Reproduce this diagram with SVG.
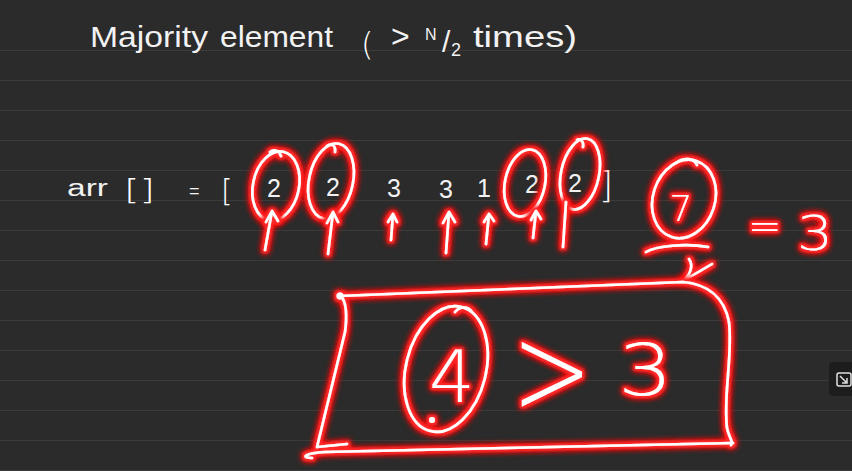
<svg xmlns="http://www.w3.org/2000/svg" width="852" height="471" viewBox="0 0 852 471">
<defs>
<style>
.ink{fill:#f2f2f2;font-family:"Liberation Sans","DejaVu Sans",sans-serif}
.hand{fill:#ffffff;font-family:"DejaVu Sans","Liberation Sans",sans-serif;font-weight:200}
.st{fill:none;stroke:#ffffff;stroke-width:2.6;stroke-linecap:round;stroke-linejoin:round}
.rule{stroke:#3b3b3b;stroke-width:1}
.gl{filter:url(#glow)}
</style>
<filter id="glow" filterUnits="userSpaceOnUse" x="0" y="0" width="852" height="471">
<feMorphology in="SourceAlpha" operator="dilate" radius="1.8" result="d"/>
<feGaussianBlur in="d" stdDeviation="3.2" result="b"/>
<feFlood flood-color="#ff1414"/>
<feComposite in2="b" operator="in" result="g"/>
<feGaussianBlur in="d" stdDeviation="1" result="b2"/>
<feFlood flood-color="#ff2a2a"/>
<feComposite in2="b2" operator="in" result="g2"/>
<feMerge><feMergeNode in="g"/><feMergeNode in="g"/><feMergeNode in="g2"/><feMergeNode in="SourceGraphic"/></feMerge>
</filter>
</defs>
<rect width="852" height="471" fill="#2b2b2b"/>
<g id="rules">
<line class="rule" x1="0" y1="50.5" x2="852" y2="50.5"/>
<line class="rule" x1="0" y1="80.5" x2="852" y2="80.5"/>
<line class="rule" x1="0" y1="110.5" x2="852" y2="110.5"/>
<line class="rule" x1="0" y1="140.5" x2="852" y2="140.5"/>
<line class="rule" x1="0" y1="170.5" x2="852" y2="170.5"/>
<line class="rule" x1="0" y1="200.5" x2="852" y2="200.5"/>
<line class="rule" x1="0" y1="230.5" x2="852" y2="230.5"/>
<line class="rule" x1="0" y1="260.5" x2="852" y2="260.5"/>
<line class="rule" x1="0" y1="290.5" x2="852" y2="290.5"/>
<line class="rule" x1="0" y1="320.5" x2="852" y2="320.5"/>
<line class="rule" x1="0" y1="350.5" x2="852" y2="350.5"/>
<line class="rule" x1="0" y1="380.5" x2="852" y2="380.5"/>
<line class="rule" x1="0" y1="410.5" x2="852" y2="410.5"/>
<line class="rule" x1="0" y1="440.5" x2="852" y2="440.5"/>
<line class="rule" x1="0" y1="470.5" x2="852" y2="470.5"/>
</g>
<g id="title">
<text class="ink" x="90" y="47" font-size="30" textLength="118" lengthAdjust="spacingAndGlyphs">Majority</text>
<text class="ink" x="220" y="47" font-size="30" textLength="113" lengthAdjust="spacingAndGlyphs">element</text>
<text class="hand" x="361" y="55" font-size="32">(</text>
<text class="ink" x="391" y="47" font-size="32">&gt;</text>
<text class="ink" x="425" y="40" font-size="16">N</text>
<text class="ink" x="442" y="52" font-size="30">/</text>
<text class="ink" x="451" y="56" font-size="18">2</text>
<text class="ink" x="473" y="47" font-size="30" textLength="104" lengthAdjust="spacingAndGlyphs">times)</text>
</g>
<g id="array">
<text class="ink" x="67" y="196" font-size="23" textLength="41" lengthAdjust="spacingAndGlyphs">arr</text>
<text class="hand" x="124" y="200" font-size="28" textLength="31" lengthAdjust="spacingAndGlyphs">[]</text>
<text class="ink" x="189" y="197" font-size="18">=</text>
<text class="hand" x="221" y="201" font-size="30">[</text>
<g class="ink" font-size="25" text-anchor="middle">
<text x="274" y="197">2</text>
<text x="333" y="196">2</text>
<text x="394" y="197">3</text>
<text x="446" y="198">3</text>
<text x="484" y="197">1</text>
<text x="532" y="193">2</text>
<text x="575" y="192">2</text>
</g>
<text class="hand" x="599" y="197" font-size="36">]</text>
</g>
<g id="circles" class="gl">
<ellipse class="st" cx="276" cy="186" rx="23" ry="35" transform="rotate(12 276 186)"/>
<ellipse class="st" cx="331" cy="181" rx="22" ry="38" transform="rotate(12 331 181)"/>
<ellipse class="st" cx="525" cy="183" rx="20" ry="34" transform="rotate(12 525 183)"/>
<ellipse class="st" cx="580" cy="174" rx="19" ry="36" transform="rotate(12 580 174)"/>
<path class="st" d="M270,152 C274,149 279,150 281,156 M327,146 C331,143 336,145 335,152 M577,140 C580,138 584,141 583,147"/>
</g>
<g id="connectors" class="gl">
<path class="st" d="M265,250 L272,211 M266,222 L272,211 L278,221"/>
<path class="st" d="M328,254 L333,212 M327,223 L333,212 L338,222"/>
<path class="st" d="M391,240 L393,214 M388,222 L393,214 L397,222"/>
<path class="st" d="M446,253 L449,212 M443,223 L449,212 L455,222"/>
<path class="st" d="M486,244 L489,214 M484,222 L489,214 L494,221"/>
<path class="st" d="M533,238 L536,211 M531,220 L536,211 L541,219"/>
<path class="st" d="M563,247 L566,202"/>
<path class="st" d="M689,259 C694,266 690,275 683,281 L712,264"/>
</g>
<g id="count" class="gl">
<ellipse class="st" cx="684" cy="199" rx="31" ry="40" transform="rotate(18 684 199)"/>
<path class="st" d="M676,163 C684,157 694,158 697,165"/>
<text class="hand" x="681" y="221" font-size="36" text-anchor="middle">7</text>
<path class="st" d="M646,252 C656,246 686,243 708,247"/>
<text class="hand" x="748" y="240" font-size="40">=</text>
<text class="hand" x="797" y="250" font-size="48" textLength="36" lengthAdjust="spacingAndGlyphs">3</text>
</g>
<g id="result" class="gl">
<path class="st" d="M340,296 L683,282 C706,284 724,296 729,322 C733,355 723,395 727,428 C729,438 734,442 731,445"/>
<path class="st" d="M733,443 L325,452 C305,453 300,458 312,458"/>
<path class="st" d="M340,296 C347,300 347,318 345,332 L317,447 M317,447 L347,444"/>
<circle cx="340" cy="296" r="3.5" fill="#fff"/>
<ellipse class="st" cx="446" cy="369" rx="40" ry="64" transform="rotate(14 446 369)" stroke-width="2"/>
<path class="st" d="M455,312 C460,306 468,306 472,312"/>
<circle cx="432" cy="420" r="3" fill="#fff"/>
<text class="hand" x="452" y="402" font-size="72" text-anchor="middle">4</text>
<text class="hand" x="552" y="403" font-size="96" text-anchor="middle" transform="translate(552 370) scale(1 1.35) translate(-552 -370)">&gt;</text>
<text class="hand" x="618" y="395" font-size="72" textLength="55" lengthAdjust="spacingAndGlyphs">3</text>
</g>
<g id="icon">
<rect x="829" y="362" width="30" height="34" rx="4" fill="#1d1d1d"/>
<rect x="837" y="373" width="14" height="13" rx="2" fill="none" stroke="#e0e0e0" stroke-width="1.5"/>
<path d="M840,376 L847,383 M847,378 L847,383 L842,383" fill="none" stroke="#e0e0e0" stroke-width="1.5"/>
</g>
</svg>
